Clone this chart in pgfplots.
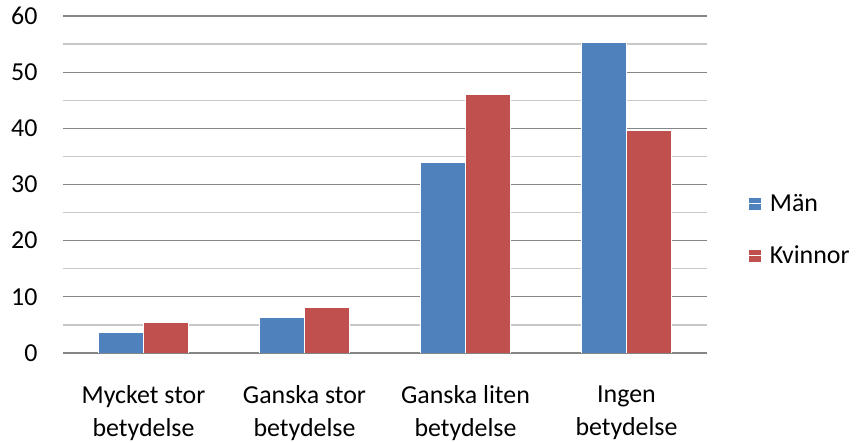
\documentclass[border=0pt]{standalone}
\usepackage{pgfplots}
\pgfplotsset{compat=1.18}
\usepackage{fontspec}
\setmainfont{Carlito}
\definecolor{manblue}{HTML}{4F81BD}
\definecolor{kvred}{HTML}{C0504D}
\definecolor{gridmaj}{HTML}{868686}
\definecolor{gridmin}{HTML}{C8C8C8}
\begin{document}
\begin{tikzpicture}
\useasboundingbox (0,0) rectangle (856bp,443bp);
\begin{axis}[
  at={(63bp,90bp)}, anchor=south west,
  scale only axis,
  width=644bp, height=337bp,
  xmin=-0.5, xmax=3.5,
  ymin=0, ymax=60,
  ytick={0,10,...,60},
  minor y tick num=1,
  xtick={0,1,2,3},
  xticklabels={{Mycket stor\\betydelse},{Ganska stor\\betydelse},{Ganska liten\\betydelse},{Ingen\\betydelse}},
  major tick length=0pt, minor tick length=0pt,
  axis line style={draw=none},
  ymajorgrids, yminorgrids,
  major grid style={gridmaj, line width=1.2bp},
  minor grid style={gridmin, line width=1.2bp},
  /pgf/number format/assume math mode=true,
  tick label style={font=\fontsize{26}{33}\selectfont},
  yticklabel style={anchor=east, xshift=-22bp},
  xticklabel style={align=center, anchor=north, yshift=-29bp},
  ybar=0pt, bar width=45bp,
  legend style={draw=none, at={(1.065,0.365)}, anchor=west, font=\fontsize{26}{32}\selectfont, row sep=29bp, cells={anchor=west}, inner sep=0pt},
  legend image code/.code={\fill[#1,draw=none] (0bp,-6bp) rectangle (12bp,6bp); \path (0bp,0bp) -- (18bp,0bp);},
]
\addplot[fill=manblue, draw=white, line width=0.8bp] coordinates {(0,3.6) (1,6.4) (2,33.9) (3,55.3)};
\addplot[fill=kvred, draw=white, line width=0.8bp] coordinates {(0,5.5) (1,8.1) (2,46.1) (3,39.6)};
\legend{Män,Kvinnor}
\end{axis}
\end{tikzpicture}
\end{document}
